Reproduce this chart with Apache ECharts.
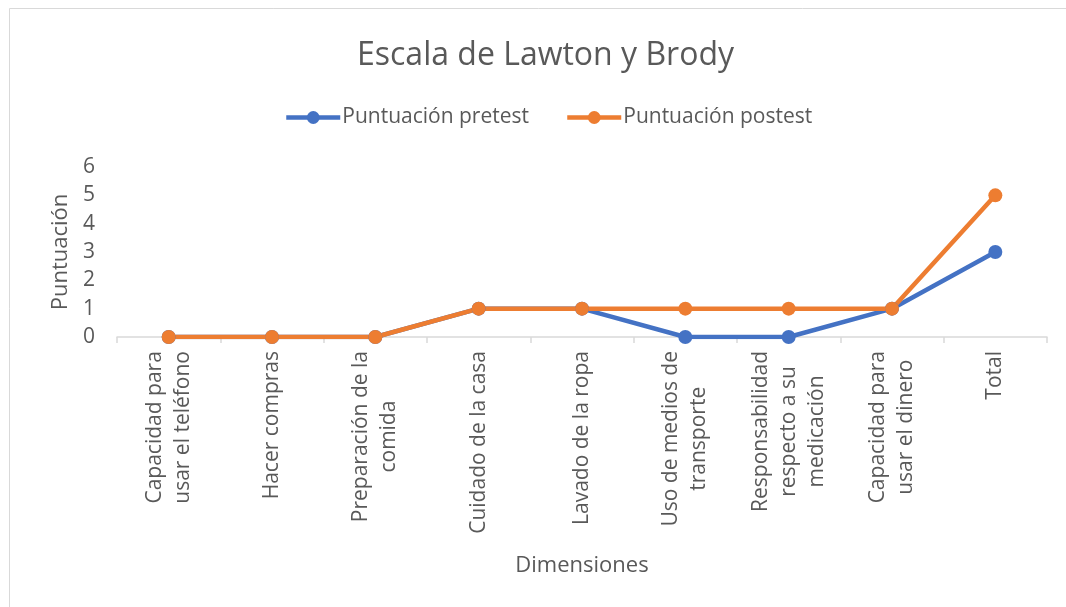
<!DOCTYPE html>
<html>
<head>
<meta charset="utf-8">
<script src="https://cdn.jsdelivr.net/npm/echarts@6/dist/echarts.min.js"></script>
<style>
html,body{margin:0;padding:0;background:#fff;}
#c{width:1066px;height:607px;}
</style>
</head>
<body>
<div id="c"></div>
<script>
const categories = [
  "Capacidad para\nusar el teléfono",
  "Hacer compras",
  "Preparación de la\ncomida",
  "Cuidado de la casa",
  "Lavado de la ropa",
  "Uso de medios de\ntransporte",
  "Responsabilidad\nrespecto a su\nmedicación",
  "Capacidad para\nusar el dinero",
  "Total"
];
const pretest = [0, 0, 0, 1, 1, 0, 0, 1, 3];
const postest = [0, 0, 0, 1, 1, 1, 1, 1, 5];
const yTicks = [0, 1, 2, 3, 4, 5, 6];

const FONT = "Open Sans";
const TXT = "#595959";
const chart = echarts.init(document.getElementById('c'));
chart.setOption({
  backgroundColor: '#fff',
  animation: false,
  graphic: [{
    type: 'rect', silent: true,
    shape: { x: 9.5, y: 8.5, width: 1080, height: 620 },
    style: { fill: 'none', stroke: '#D9D9D9', lineWidth: 1 }
  }],
  title: {
    text: 'Escala de Lawton y Brody',
    left: 352, top: 35,
    textStyle: { fontFamily: FONT, fontSize: 32, fontWeight: 'normal', color: TXT }
  },
  legend: {
    top: 102, left: 279,
    itemWidth: 54, itemHeight: 16, itemGap: 36,
    lineStyle: { width: 4.5 },
    textStyle: { fontFamily: FONT, fontSize: 21, color: TXT, padding: [0, 0, 0, -3] },
    data: ['Puntuación pretest', 'Puntuación postest']
  },
  grid: { left: 117, right: 19, top: 167, bottom: 270 },
  xAxis: {
    type: 'category',
    data: categories,
    boundaryGap: true,
    name: 'Dimensiones',
    nameLocation: 'middle',
    nameGap: 218,
    nameTextStyle: { fontFamily: FONT, fontSize: 22, color: TXT },
    axisLine: { lineStyle: { color: '#D9D9D9', width: 1.5 } },
    axisTick: { show: true, length: 6, alignWithLabel: false, lineStyle: { color: '#D9D9D9', width: 1.5 } },
    axisLabel: {
      rotate: 90, margin: 14, interval: 0,
      fontFamily: FONT, fontSize: 21, color: TXT, lineHeight: 28,
      formatter: function (v) {
        return v.split('\n').map(function (l) { return '{c|' + l + '}'; }).join('\n');
      },
      rich: { c: { align: 'center', fontFamily: FONT, fontSize: 21, color: TXT, lineHeight: 28 } }
    },
    splitLine: { show: false }
  },
  yAxis: {
    type: 'value',
    min: yTicks[0], max: yTicks[yTicks.length - 1], interval: 1,
    name: 'Puntuación',
    nameLocation: 'middle',
    nameGap: 38,
    nameTextStyle: { fontFamily: FONT, fontSize: 22, color: TXT },
    axisLine: { show: false },
    axisTick: { show: false },
    splitLine: { show: false },
    axisLabel: { fontFamily: FONT, fontSize: 21, color: TXT, margin: 22 }
  },
  series: [
    {
      name: 'Puntuación pretest', type: 'line', data: pretest,
      symbol: 'circle', symbolSize: 14,
      itemStyle: { color: '#4472C4' },
      lineStyle: { color: '#4472C4', width: 4.5 }
    },
    {
      name: 'Puntuación postest', type: 'line', data: postest,
      symbol: 'circle', symbolSize: 14,
      itemStyle: { color: '#ED7D31' },
      lineStyle: { color: '#ED7D31', width: 4.5 }
    }
  ]
});
</script>
</body>
</html>
